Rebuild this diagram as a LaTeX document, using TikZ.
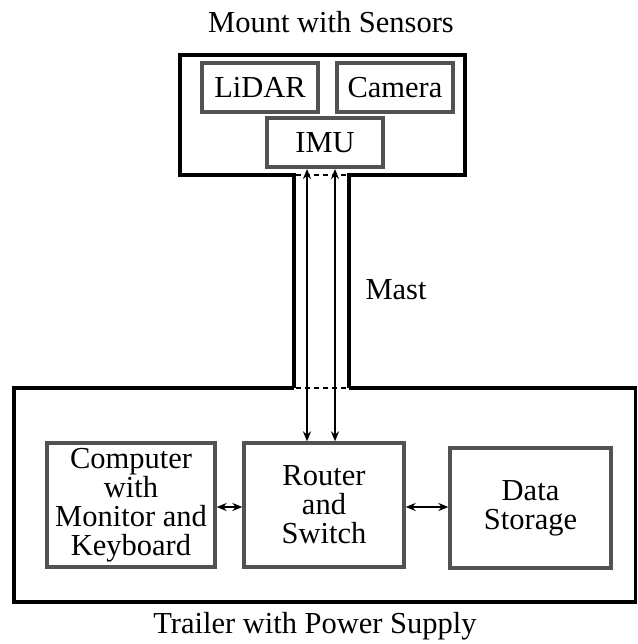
\documentclass[tikz,border=0pt]{standalone}
\usepackage{fontspec}
\setmainfont{Liberation Serif}
\usetikzlibrary{arrows.meta}
\begin{document}
\begin{tikzpicture}[x=1pt,y=-1pt,
  inbox/.style={draw=black!68, line width=3.3pt, inner sep=0pt, align=center,
    font=\fontsize{30.5}{29}\selectfont},
  outer/.style={draw=black, line width=3.4pt, line join=miter},
  lbl/.style={font=\fontsize{30.5}{29}\selectfont, inner sep=0pt},
  conn/.style={line width=2pt, {Stealth[length=10pt,width=8pt]}-{Stealth[length=10pt,width=8pt]}},
  dsh/.style={line width=1.3pt, dashed, dash pattern=on 5pt off 4pt}]
\useasboundingbox (0,0) rectangle (637,644);
% outer structures
\draw[outer] (294,388) -- (294,175) -- (180,175) -- (180,55) -- (465,55) -- (465,175) -- (349,175) -- (349,388);
\draw[outer] (294,388) -- (14,388) -- (14,602) -- (635.5,602) -- (635.5,388) -- (349,388);
\draw[dsh] (296,175) -- (347,175);
\draw[dsh] (296,388) -- (347,388);
% labels
\node[lbl] (title) at (331,22) {Mount with Sensors};
\node[lbl] (caption) at (315,626) {Trailer with Power Supply};
\node[lbl] (mast) at (396,290) {Mast};
% sensor boxes
\node[inbox, minimum width=116pt, minimum height=49pt] (lidar) at (260,87.5) {LiDAR};
\node[inbox, minimum width=116pt, minimum height=49pt] (camera) at (395,87.5) {Camera};
\node[inbox, minimum width=116pt, minimum height=49pt] (imu) at (325,142.5) {IMU};
% trailer boxes
\node[inbox, minimum width=168pt, minimum height=124pt] (comp) at (131,505) {Computer\\with\\Monitor and\\Keyboard};
\node[inbox, minimum width=160pt, minimum height=124pt] (router) at (324,505) {Router\\and\\Switch};
\node[inbox, minimum width=161pt, minimum height=120pt] (data) at (530.5,508) {Data\\Storage};
% connectors
\coordinate (a1) at (307,169);
\coordinate (a2) at (335,169);
\draw[conn] (a1) -- (a1 |- router.north);
\draw[conn] (a2) -- (a2 |- router.north);
\draw[conn] (comp.east |- 0,507) -- (router.west |- 0,507);
\draw[conn] (router.east |- 0,507) -- (data.west |- 0,507);
\end{tikzpicture}
\end{document}
